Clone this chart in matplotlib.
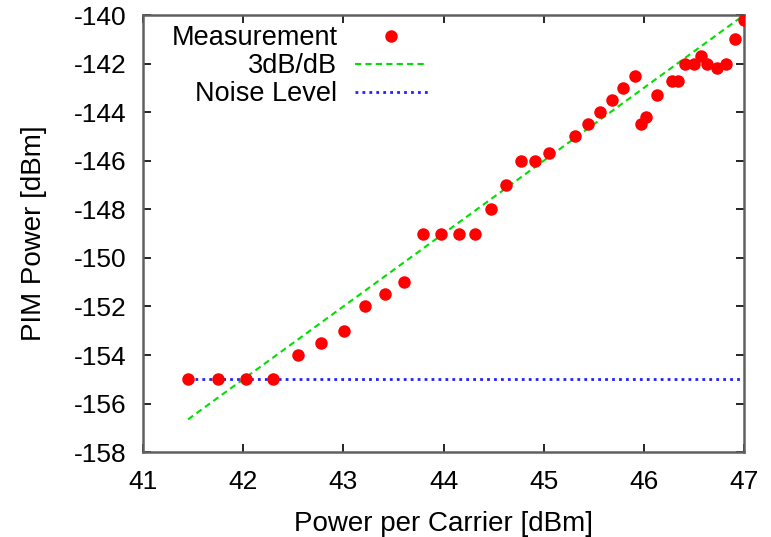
import matplotlib
matplotlib.use("Agg")
import matplotlib.pyplot as plt

# measured PIM points
carrier_dbm = [41.45, 41.75, 42.03, 42.30, 42.55, 42.78, 43.01, 43.22, 43.42, 43.61,
               43.80, 43.97, 44.15, 44.31, 44.47, 44.62, 44.77, 44.91, 45.05, 45.31,
               45.44, 45.56, 45.68, 45.79, 45.91, 45.97, 46.02, 46.13, 46.28, 46.34,
               46.41, 46.50, 46.57, 46.63, 46.73, 46.82, 46.91, 47.00]
pim_dbm = [-155, -155, -155, -155, -154, -153.5, -153, -152, -151.5, -151,
           -149, -149, -149, -149, -148, -147, -146, -146, -145.7, -145,
           -144.5, -144, -143.5, -143, -142.5, -144.5, -144.2, -143.3, -142.7, -142.7,
           -142, -142, -141.7, -142, -142.2, -142, -141, -140.2]

# reference lines
slope_x = [41.45, 47.0]
slope_y = [-156.65, -140.0]
noise_x = [41.45, 47.0]
noise_y = [-155, -155]

xticks = [41, 42, 43, 44, 45, 46, 47]
yticks = [-158, -156, -154, -152, -150, -148, -146, -144, -142, -140]

plt.rcParams['font.family'] = ['Liberation Sans', 'DejaVu Sans']
plt.rcParams['axes.unicode_minus'] = False

fig = plt.figure(figsize=(7.71, 5.37), dpi=100)
ax = fig.add_axes([0.1855, 0.158, 0.7795, 0.814])

ax.plot(carrier_dbm, pim_dbm, 'o', color='#ff0000', markersize=9,
        markeredgewidth=0, label='Measurement', zorder=3)
ax.plot(slope_x, slope_y, '--', color='#00e000', lw=1.5, dashes=(3, 2),
        label='3dB/dB', zorder=2)
ax.plot(noise_x, noise_y, ':', color='#2020ff', lw=2, dashes=(1, 1.5),
        label='Noise Level', zorder=2)

ax.set_xlim(41, 47)
ax.set_ylim(-158, -140)
ax.set_xticks(xticks)
ax.set_yticks(yticks)
ax.tick_params(direction='in', length=6, width=1.2, top=True, right=True,
               labelsize=19, colors='#000000', pad=12)
ax.tick_params(axis='x', pad=13)
for s in ax.spines.values():
    s.set_color('#606060')
    s.set_linewidth(1.8)

ax.set_xlabel('Power per Carrier [dBm]', fontsize=20, labelpad=12)
ax.set_ylabel('PIM Power [dBm]', fontsize=20, labelpad=19)

ax.legend(loc='upper right', bbox_to_anchor=(428 / 771, 1 - 25 / 537),
          bbox_transform=fig.transFigure, markerfirst=False,
          frameon=False, fontsize=19.5, numpoints=1, handlelength=2.7,
          labelspacing=0.08, handletextpad=0.65, borderaxespad=0, borderpad=0)

fig.savefig('out.png', dpi=100)
